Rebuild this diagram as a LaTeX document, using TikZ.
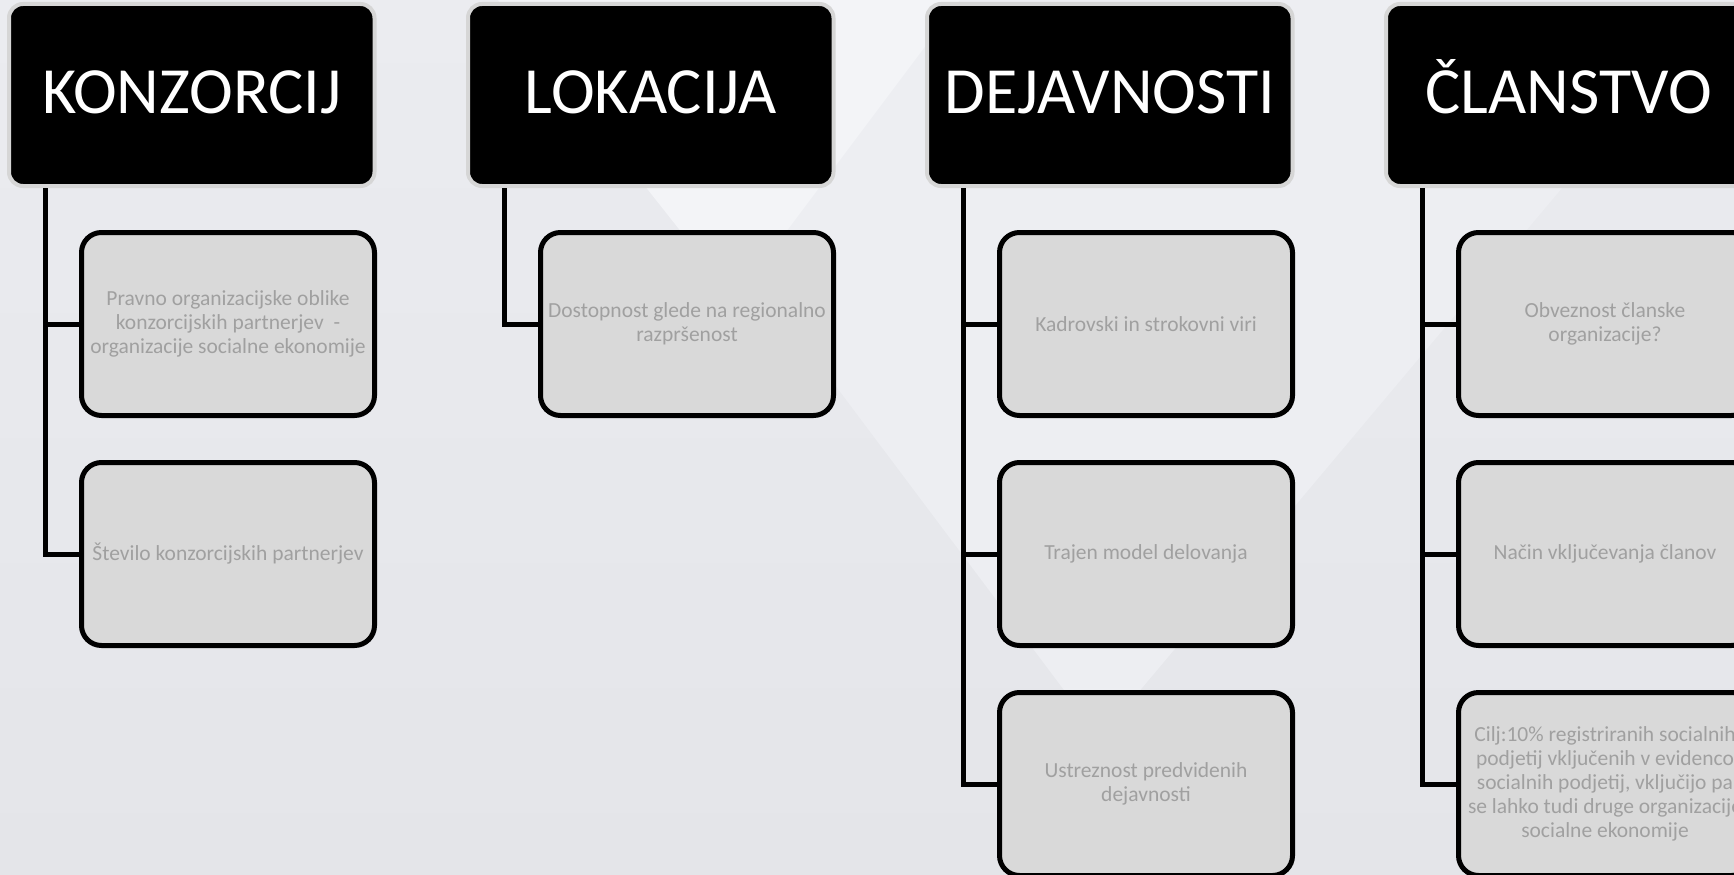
\documentclass[tikz,border=0pt]{standalone}
\usepackage{fontspec}
\setmainfont{Carlito}
\usetikzlibrary{positioning}
\definecolor{bgtop}{HTML}{EBECF0}
\definecolor{bgbottom}{HTML}{E4E5E9}
\definecolor{bgfacet}{HTML}{EDEEF2}
\definecolor{bglight}{HTML}{F3F4F7}
\definecolor{headrim}{HTML}{D6D6D6}
\definecolor{itemfill}{HTML}{D9D9D9}
\definecolor{itemtext}{HTML}{A0A0A0}
\tikzset{
  header/.style={draw=headrim, line width=4pt, fill=black, rounded corners=14pt,
    minimum width=365.5pt, minimum height=182pt, inner sep=0pt, outer sep=0pt,
    text=white, font=\fontsize{66}{72}\selectfont, text height=42pt, text depth=5pt},
  item/.style={draw=black, line width=5pt, fill=itemfill, rounded corners=20pt,
    minimum width=293pt, minimum height=183pt, inner sep=0pt, outer sep=0pt,
    text=itemtext, font=\fontsize{21.5}{24}\selectfont, align=center},
  branch/.style={draw=black, line width=5pt}
}

\begin{document}
\begin{tikzpicture}[x=1pt,y=-1pt]
    \useasboundingbox (0,0) rectangle (1734,875);
    \clip (0,0) rectangle (1734,875);

    % background facets
    \shade[top color=bgtop, bottom color=bgbottom] (0,0) rectangle (1734,875);
    \fill[bgfacet] (546,0) -- (1720,0) -- (1100,738) -- cycle;
    \fill[bglight] (498,0) -- (960,0) -- (735,300) -- cycle;

    % headers
    \node[header] (konz) at (191.75,95) {KONZORCIJ};
    \node[header] (lok) at (650.75,95) {LOKACIJA};
    \node[header] (dej) at (1109.75,95) {DEJAVNOSTI};
    \node[header] (clan) at (1568.75,95) {ČLANSTVO};

    \coordinate (konzt) at ([xshift=36.5pt,yshift=-2pt]konz.south west);
    \coordinate (lokt) at ([xshift=36.5pt,yshift=-2pt]lok.south west);
    \coordinate (dejt) at ([xshift=36.5pt,yshift=-2pt]dej.south west);
    \coordinate (clant) at ([xshift=36.5pt,yshift=-2pt]clan.south west);

    % items
    \node[item] (konz1) at (228,324) {Pravno organizacijske oblike\\konzorcijskih partnerjev \ -\\organizacije socialne ekonomije};
    \node[item, below=47pt of konz1] (konz2) {Število konzorcijskih partnerjev};

    \node[item] (lok1) at (687,324) {Dostopnost glede na regionalno\\razpršenost};

    \node[item] (dej1) at (1146,324) {Kadrovski in strokovni viri};
    \node[item, below=47pt of dej1] (dej2) {Trajen model delovanja};
    \node[item, below=47pt of dej2] (dej3) {Ustreznost predvidenih\\dejavnosti};

    \node[item] (clan1) at (1605,324) {Obveznost članske\\organizacije?};
    \node[item, below=47pt of clan1] (clan2) {Način vključevanja članov};
    \node[item, below=47pt of clan2] (clan3) {Cilj:10\% registriranih socialnih\\podjetij vključenih v evidenco\\socialnih podjetij, vključijo pa\\se lahko tudi druge organizacije\\socialne ekonomije};

    % branches
    \draw[branch] (konzt) |- (konz2.west);
    \draw[branch] (konz1.west -| konzt) -- (konz1.west);
    \draw[branch] (lokt) |- (lok1.west);
    \draw[branch] (dejt) |- (dej3.west);
    \draw[branch] (dej1.west -| dejt) -- (dej1.west);
    \draw[branch] (dej2.west -| dejt) -- (dej2.west);
    \draw[branch] (clant) |- (clan3.west);
    \draw[branch] (clan1.west -| clant) -- (clan1.west);
    \draw[branch] (clan2.west -| clant) -- (clan2.west);
\end{tikzpicture}
\end{document}
